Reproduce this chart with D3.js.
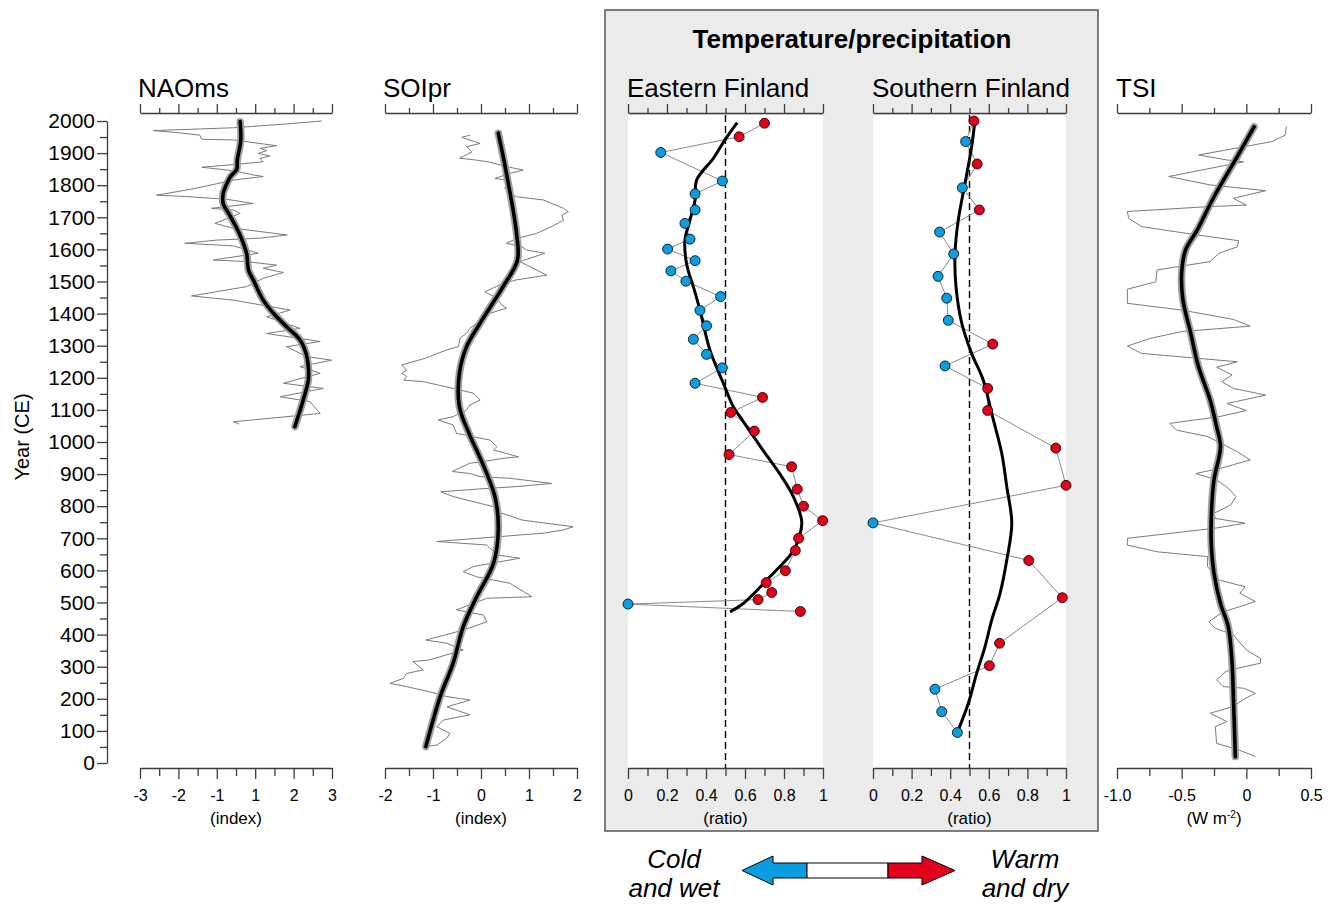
<!DOCTYPE html>
<html><head><meta charset="utf-8">
<script src="https://cdn.jsdelivr.net/npm/d3@7"></script>
<style>
body{margin:0;background:#fff}
svg{display:block}
text{font-family:"Liberation Sans",Arial,Helvetica,sans-serif;fill:#000}
</style>
</head><body>
<svg id="chart" width="1336" height="904"></svg>
<script>
// ---------------- DATA ----------------
const yearTicks = d3.range(0, 2001, 100);
const yearMinorTicks = d3.range(50, 2000, 100);

const naoTickLabels = ["-3", "-2", "-1", "1", "2", "3"];
const soiTicks = [-2, -1, 0, 1, 2];
const ratioTicks = [0, 0.2, 0.4, 0.6, 0.8, 1];
const tsiTicks = [-1, -0.5, 0, 0.5];

// NAOms reconstruction [year, index]
const naoRaw = [[2000,2.68],[1990,1.48],[1979,-0.08],[1970,-2.58],[1964,-1.85],[1956,-1.13],[1943,-1.07],[1941,-0.08],
 [1923,1.27],[1915,0.75],[1908,0.96],[1899,0.7],[1891,1.06],[1883,0.75],[1873,0.85],[1866,0.13],[1856,-1.07],
 [1845,-0.08],[1832,0.54],[1827,0.85],[1816,-0.08],[1793,-1.13],[1785,-1.54],[1769,-2.48],[1764,-1.44],[1756,-0.29],
 [1743,0.54],[1728,-0.77],[1723,-0.08],[1712,0.13],[1681,-0.66],[1666,-0.08],[1645,1.6],[1635,0.75],[1629,-0.6],
 [1619,-1.6],[1611,-0.08],[1588,0.7],[1567,-0.71],[1562,0.33],[1551,1.27],[1541,0.85],[1528,1.48],[1510,0.85],
 [1484,0.33],[1455,-1.39],[1442,-0.08],[1411,1.69],[1390,0.96],[1354,2.0],[1338,0.96],[1313,2.63],[1297,1.58],
 [1266,2.21],[1255,2.99],[1235,2.0],[1214,2.63],[1183,1.48],[1167,2.73],[1141,1.38],[1126,2.31],[1089,2.63],
 [1063,-0.08],[1056,0.1]];
const naoSmooth = [[1998,0.13],[1941,0.15],[1878,0.04],[1849,0.02],[1827,-0.17],[1795,-0.33],[1775,-0.4],[1743,-0.4],
 [1702,-0.17],[1650,0.1],[1588,0.33],[1536,0.39],[1505,0.54],[1442,0.85],[1401,1.17],[1359,1.58],[1318,2.0],
 [1276,2.19],[1235,2.26],[1193,2.26],[1131,2.1],[1048,1.84]];

// SOIpr reconstruction [year, index]
const soiRaw = [[1956,-0.23],[1949,-0.4],[1930,-0.02],[1920,-0.3],[1904,-0.19],[1884,-0.44],[1878,-0.09],[1873,0.15],
 [1863,0.4],[1856,0.6],[1847,0.88],[1837,0.6],[1821,0.29],[1816,0.53],[1790,0.5],[1775,0.6],[1764,0.74],[1754,1.3],
 [1728,1.72],[1717,1.82],[1707,1.68],[1691,1.72],[1671,1.47],[1650,1.16],[1634,0.74],[1619,0.53],[1608,0.85],
 [1598,0.95],[1588,1.33],[1562,0.81],[1520,1.37],[1505,0.74],[1494,0.46],[1468,0.08],[1448,0.33],[1427,0.43],
 [1417,0.53],[1401,0.19],[1396,0.08],[1370,-0.09],[1354,-0.23],[1339,-0.3],[1323,-0.44],[1297,-0.47],[1287,-0.71],
 [1261,-1.16],[1240,-1.65],[1224,-1.55],[1214,-1.65],[1204,-1.55],[1193,-1.61],[1188,-1.2],[1167,-0.58],[1152,-0.16],
 [1131,-0.02],[1115,-0.23],[1100,-0.3],[1079,-0.58],[1069,-0.89],[1053,-0.58],[1027,-0.51],[1012,-0.02],[1006,0.19],
 [985,0.33],[975,0.26],[954,0.78],[949,0.46],[939,0.05],[934,-0.23],[908,-0.6],[902,-0.23],[892,-0.02],[887,0.6],
 [871,1.47],[861,0.74],[856,0.19],[845,-0.84],[830,-0.58],[809,-0.02],[793,0.4],[783,0.33],[767,0.67],[757,0.85],
 [736,1.92],[726,1.72],[716,1.3],[690,-0.92],[679,0.12],[648,0.33],[638,0.81],[612,-0.16],[596,-0.37],[580,-0.09],
 [560,0.6],[518,1.06],[513,0.12],[477,-0.51],[461,0.05],[440,0.12],[414,-0.37],[383,-1.15],[373,-0.71],[352,-0.37],
 [321,-1.08],[316,-1.42],[290,-1.2],[279,-1.55],[264,-1.61],[248,-1.9],[238,-1.55],[222,-1.08],[207,-0.71],
 [196,-0.23],[175,-0.71],[150,-0.23],[134,-0.78],[113,-0.92],[92,-0.65],[77,-0.71],[56,-0.92],[51,-1.2]];
const soiSmooth = [[1962,0.36],[1837,0.53],[1650,0.74],[1567,0.76],[1484,0.46],[1370,-0.02],[1297,-0.3],[1214,-0.45],
 [1110,-0.45],[1027,-0.25],[934,0.03],[830,0.29],[726,0.36],[622,0.26],[518,-0.09],[425,-0.37],[311,-0.58],
 [207,-0.85],[51,-1.15]];

// Eastern Finland temperature/precipitation ratio [year, ratio]
const eastPoints = [[1993,0.70],[1951,0.57],[1902,0.168],[1813,0.484],[1773,0.344],[1723,0.344],[1681,0.292],
 [1632,0.318],[1601,0.203],[1565,0.344],[1533,0.22],[1501,0.297],[1453,0.475],[1410,0.369],[1362,0.403],[1320,0.335],
 [1273,0.403],[1231,0.484],[1183,0.344],[1139,0.69],[1092,0.527],[1034,0.648],[961,0.518],[923,0.839],[853,0.868],
 [800,0.9],[755,0.998],[700,0.875],[662,0.858],[599,0.807],[562,0.709],[531,0.737],[509,0.667],[495,0.0],[472,0.884]];
const eastSmooth = [[1995,0.56],[1941,0.497],[1884,0.438],[1816,0.352],[1754,0.344],[1692,0.318],[1629,0.292],
 [1567,0.297],[1531,0.31],[1484,0.335],[1411,0.369],[1287,0.42],[1183,0.489],[1110,0.54],[1079,0.574],[985,0.68],
 [892,0.788],[830,0.848],[752,0.891],[695,0.873],[653,0.839],[591,0.745],[497,0.591],[471,0.523]];

// Southern Finland temperature/precipitation ratio [year, ratio]
const southPoints = [[2000,0.523],[1936,0.48],[1866,0.54],[1792,0.463],[1723,0.551],[1654,0.345],[1586,0.418],
 [1516,0.337],[1448,0.382],[1379,0.39],[1305,0.62],[1237,0.373],[1167,0.594],[1098,0.594],[981,0.947],[865,1.0],
 [748,0.0],[631,0.807],[515,0.981],[373,0.656],[303,0.603],[230,0.321],[160,0.356],[95,0.437]];
const southSmooth = [[2000,0.528],[1920,0.511],[1806,0.477],[1692,0.442],[1588,0.425],[1484,0.43],[1370,0.46],
 [1276,0.511],[1193,0.571],[1089,0.615],[965,0.667],[861,0.693],[747,0.719],[632,0.693],[528,0.658],[445,0.615],
 [362,0.58],[279,0.537],[186,0.494],[103,0.442]];

// TSI anomaly [year, W m-2]
const tsiRaw = [[1982,0.31],[1956,0.30],[1936,0.2],[1894,-0.37],[1878,-0.14],[1873,-0.02],[1827,-0.6],[1801,-0.28],
 [1783,0.15],[1759,-0.1],[1738,0.0],[1733,-0.3],[1718,-0.92],[1697,-0.91],[1671,-0.81],[1648,-0.43],[1627,-0.06],
 [1608,-0.07],[1588,-0.21],[1562,-0.28],[1536,-0.69],[1499,-0.7],[1476,-0.92],[1432,-0.92],[1411,-0.5],[1382,-0.1],
 [1361,0.03],[1344,-0.5],[1323,-0.74],[1299,-0.92],[1276,-0.81],[1250,-0.07],[1233,-0.23],[1209,-0.11],[1188,-0.19],
 [1167,-0.1],[1146,0.15],[1120,-0.15],[1098,0.0],[1079,-0.21],[1058,-0.59],[1037,-0.54],[1017,-0.3],[970,-0.07],
 [944,0.03],[918,-0.2],[902,-0.39],[882,-0.23],[856,-0.14],[830,-0.08],[804,-0.12],[778,-0.25],[762,-0.24],
 [747,-0.01],[731,-0.25],[700,-0.92],[679,-0.92],[658,-0.69],[643,-0.3],[612,-0.3],[570,-0.21],[549,-0.01],
 [529,-0.05],[503,0.07],[487,-0.05],[471,-0.18],[440,-0.29],[420,-0.24],[399,-0.1],[352,0.0],[326,0.11],[311,0.11],
 [295,-0.07],[285,-0.16],[259,-0.23],[238,-0.18],[233,-0.02],[217,0.07],[201,-0.01],[176,-0.1],[155,-0.28],
 [129,-0.15],[113,-0.24],[61,-0.23],[41,-0.06],[20,0.07]];
const tsiSmooth = [[1982,0.06],[1889,-0.07],[1764,-0.25],[1660,-0.38],[1598,-0.47],[1525,-0.5],[1442,-0.49],
 [1339,-0.43],[1235,-0.37],[1131,-0.28],[1048,-0.23],[985,-0.2],[882,-0.25],[778,-0.27],[674,-0.27],[591,-0.25],
 [497,-0.2],[425,-0.14],[310,-0.11],[207,-0.1],[20,-0.085]];

// ---------------- DRAWING ----------------
const svg = d3.select("#chart");
const AX = "#3c3c3c";
const BLUE = "#0a9de0", RED = "#e2001a";
const TOP = 113, BOT = 768;

const y = d3.scaleLinear().domain([0, 2000]).range([763, 121]);

// grey box for temperature/precipitation
svg.append("rect").attr("x", 605).attr("y", 10).attr("width", 493).attr("height", 821)
  .attr("fill", "#ebebeb").attr("stroke", "#555").attr("stroke-width", 1.5);
svg.append("text").attr("x", 852).attr("y", 48).attr("text-anchor", "middle")
  .style("font-size", "26px").style("font-weight", "bold").text("Temperature/precipitation");

// scales
const xNao = d3.scaleLinear().domain([-3, 3]).range([140, 332]);
const xNaoLab = d3.scalePoint().domain(naoTickLabels).range([140, 332]);
const xNaoMinor = d3.scaleLinear().domain([0, 10]).range([140, 332]);
const xSoi = d3.scaleLinear().domain([-2, 2]).range([385, 577]);
const xEast = d3.scaleLinear().domain([0, 1]).range([628, 823]);
const xSouth = d3.scaleLinear().domain([0, 1]).range([873, 1066]);
const xTsi = d3.scaleLinear().domain([-1, 0.5]).range([1117, 1311]);

// white plot areas for ratio panels
[xEast, xSouth].forEach(s => {
  svg.append("rect").attr("x", s(0)).attr("y", TOP + 2).attr("width", s(1) - s(0))
    .attr("height", BOT - TOP - 2).attr("fill", "#fff");
});

function styleAxis(g) {
  g.selectAll("path,line").attr("stroke", AX).attr("stroke-width", 1.3);
  g.selectAll("text").style("font-size", "16px").attr("fill", "#000");
}

function panelAxes(majorScale, majorVals, minorScale, minorVals, fmt) {
  const t = svg.append("g").attr("transform", `translate(0,${TOP})`);
  const ta = d3.axisTop(majorScale).tickSize(9).tickSizeOuter(0).tickFormat("");
  if (majorVals) ta.tickValues(majorVals);
  t.call(ta); styleAxis(t);
  const tm = svg.append("g").attr("transform", `translate(0,${TOP})`)
    .call(d3.axisTop(minorScale).tickValues(minorVals).tickSize(5).tickFormat(""));
  tm.select(".domain").remove(); styleAxis(tm);

  const b = svg.append("g").attr("transform", `translate(0,${BOT})`);
  const ba = d3.axisBottom(majorScale).tickSize(11).tickSizeOuter(0).tickPadding(11);
  if (majorVals) ba.tickValues(majorVals);
  if (fmt) ba.tickFormat(fmt);
  b.call(ba); styleAxis(b);
  const bm = svg.append("g").attr("transform", `translate(0,${BOT})`)
    .call(d3.axisBottom(minorScale).tickValues(minorVals).tickSize(8).tickFormat(""));
  bm.select(".domain").remove(); styleAxis(bm);
}

const ratioFmt = d => (d === 0 || d === 1) ? String(d) : d.toFixed(1);
panelAxes(xNaoLab, null, xNaoMinor, [1, 3, 5, 7, 9]);
panelAxes(xSoi, soiTicks, xSoi, [-1.5, -0.5, 0.5, 1.5], d => String(d));
panelAxes(xEast, ratioTicks, xEast, [0.1, 0.3, 0.5, 0.7, 0.9], ratioFmt);
panelAxes(xSouth, ratioTicks, xSouth, [0.1, 0.3, 0.5, 0.7, 0.9], ratioFmt);
panelAxes(xTsi, tsiTicks, xTsi, [-0.75, -0.25, 0.25], d => d === 0 ? "0" : d.toFixed(1));

// Year axis
const ya = svg.append("g").attr("transform", "translate(107,0)")
  .call(d3.axisLeft(y).tickValues(yearTicks).tickSize(10).tickSizeOuter(0).tickPadding(2).tickFormat(d => String(d)));
styleAxis(ya); ya.selectAll("text").style("font-size", "21px");
const yam = svg.append("g").attr("transform", "translate(107,0)")
  .call(d3.axisLeft(y).tickValues(yearMinorTicks).tickSize(7).tickFormat(""));
yam.select(".domain").remove(); styleAxis(yam);
svg.append("text").attr("transform", "translate(29,437) rotate(-90)").attr("text-anchor", "middle")
  .style("font-size", "20px").text("Year (CE)");

// panel titles
const titles = [["NAOms", 138], ["SOIpr", 383], ["Eastern Finland", 627], ["Southern Finland", 872], ["TSI", 1116]];
titles.forEach(([t, x]) => svg.append("text").attr("x", x).attr("y", 97).style("font-size", "26px").text(t));

// unit labels
[["(index)", 236], ["(index)", 481], ["(ratio)", 725.5], ["(ratio)", 969.5]].forEach(([t, x]) =>
  svg.append("text").attr("x", x).attr("y", 824).attr("text-anchor", "middle").style("font-size", "17px").text(t));
const wm = svg.append("text").attr("x", 1214).attr("y", 824).attr("text-anchor", "middle").style("font-size", "17px");
wm.append("tspan").text("(W m");
wm.append("tspan").attr("dy", -6).style("font-size", "10px").text("-2");
wm.append("tspan").attr("dy", 6).text(")");

// line drawing helpers
function rawLine(data, xs) {
  svg.append("path").datum(data)
    .attr("d", d3.line().x(d => xs(d[1])).y(d => y(d[0])))
    .attr("fill", "none").attr("stroke", "#7a7a7a").attr("stroke-width", 1).attr("stroke-linejoin", "round");
}
function smoothLine(data, xs, halo) {
  const gen = d3.line().x(d => xs(d[1])).y(d => y(d[0])).curve(d3.curveCatmullRom.alpha(0.5));
  if (halo) {
    svg.append("path").datum(data).attr("d", gen).attr("fill", "none")
      .attr("stroke", "#a0a0a0").attr("stroke-width", 7.5).attr("stroke-linecap", "round");
  }
  svg.append("path").datum(data).attr("d", gen).attr("fill", "none")
    .attr("stroke", "#000").attr("stroke-width", halo ? 3.6 : 3).attr("stroke-linecap", halo ? "round" : "butt")
    .attr("stroke-linejoin", "round");
}

// NAO / SOI / TSI
rawLine(naoRaw, xNao); smoothLine(naoSmooth, xNao, true);
rawLine(soiRaw, xSoi); smoothLine(soiSmooth, xSoi, true);
rawLine(tsiRaw, xTsi); smoothLine(tsiSmooth, xTsi, true);

// ratio panels
function ratioPanel(points, smooth, xs) {
  svg.append("line").attr("x1", xs(0.5)).attr("x2", xs(0.5)).attr("y1", TOP + 2).attr("y2", BOT)
    .attr("stroke", "#000").attr("stroke-width", 1.4).attr("stroke-dasharray", "7,4");
  svg.append("path").datum(points)
    .attr("d", d3.line().x(d => xs(d[1])).y(d => y(d[0])))
    .attr("fill", "none").attr("stroke", "#8a8a8a").attr("stroke-width", 1);
  smoothLine(smooth, xs, false);
  svg.append("g").selectAll("circle").data(points).join("circle")
    .attr("cx", d => xs(d[1])).attr("cy", d => y(d[0])).attr("r", 5)
    .attr("fill", d => d[1] > 0.5 ? RED : BLUE).attr("stroke", "#000").attr("stroke-width", 0.8);
}
ratioPanel(eastPoints, eastSmooth, xEast);
ratioPanel(southPoints, southSmooth, xSouth);

// legend arrow
const lg = svg.append("g").attr("stroke", "#000").attr("stroke-width", 1);
lg.append("path").attr("d", "M742,870.5 L773,856 L773,863 L807,863 L807,878 L773,878 L773,885 Z").attr("fill", BLUE);
lg.append("path").attr("d", "M807,863 L888,863 L888,878 L807,878 Z").attr("fill", "#fff");
lg.append("path").attr("d", "M888,863 L922,863 L922,856 L955,870.5 L922,885 L922,878 L888,878 Z").attr("fill", RED);
[["Cold", 674, 868], ["and wet", 674, 897], ["Warm", 1025, 868], ["and dry", 1025, 897]].forEach(([t, x, yy]) =>
  svg.append("text").attr("x", x).attr("y", yy).attr("text-anchor", "middle")
    .style("font-size", "26px").style("font-style", "italic").text(t));
</script>
</body></html>
